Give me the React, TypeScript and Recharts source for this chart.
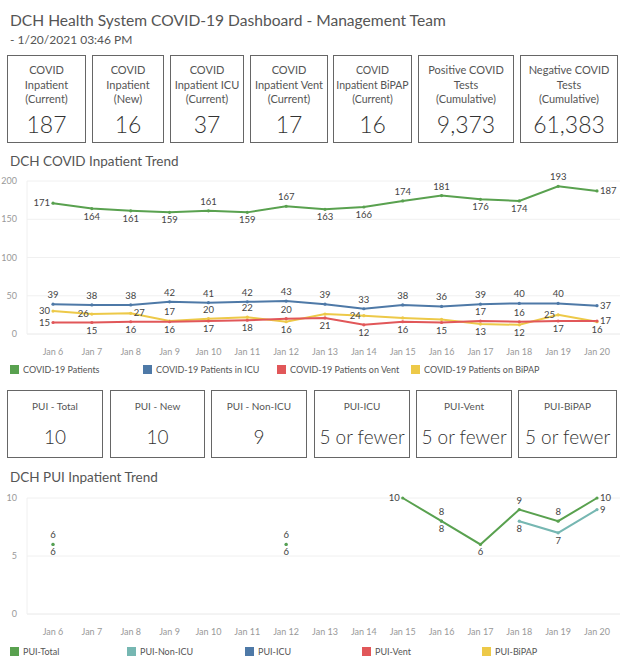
import React from 'react';
import { LineChart, Line, XAxis, YAxis, CartesianGrid, LabelList } from 'recharts';

const dates = ['Jan 6', 'Jan 7', 'Jan 8', 'Jan 9', 'Jan 10', 'Jan 11', 'Jan 12', 'Jan 13', 'Jan 14', 'Jan 15', 'Jan 16', 'Jan 17', 'Jan 18', 'Jan 19', 'Jan 20'];

const covidPatients = [171, 164, 161, 159, 161, 159, 167, 163, 166, 174, 181, 176, 174, 193, 187];
const covidIcu = [39, 38, 38, 42, 41, 42, 43, 39, 33, 38, 36, 39, 40, 40, 37];
const covidVent = [15, 15, 16, 16, 17, 18, 20, 21, 12, 16, 15, 17, 16, 17, 17];
const covidBipap = [30, 26, 27, 17, 20, 22, 16, 26, 24, 21, 19, 13, 12, 25, 16];

const puiTotal = [6, null, null, null, null, null, 6, null, null, 10, 8, 6, 9, 8, 10];
const puiNonIcu = [6, null, null, null, null, null, 6, null, null, null, 8, null, 8, 7, 9];

const covidTicks = [0, 50, 100, 150, 200];
const puiTicks = [0, 5, 10];

const topCards = [
  { lines: ['COVID', 'Inpatient', '(Current)'], value: '187' },
  { lines: ['COVID', 'Inpatient', '(New)'], value: '16' },
  { lines: ['COVID', 'Inpatient ICU', '(Current)'], value: '37' },
  { lines: ['COVID', 'Inpatient Vent', '(Current)'], value: '17' },
  { lines: ['COVID', 'Inpatient BiPAP', '(Current)'], value: '16' },
  { lines: ['Positive COVID', 'Tests', '(Cumulative)'], value: '9,373' },
  { lines: ['Negative COVID', 'Tests', '(Cumulative)'], value: '61,383' },
];

const puiCards = [
  { label: 'PUI - Total', value: '10' },
  { label: 'PUI - New', value: '10' },
  { label: 'PUI - Non-ICU', value: '9' },
  { label: 'PUI-ICU', value: '5 or fewer' },
  { label: 'PUI-Vent', value: '5 or fewer' },
  { label: 'PUI-BiPAP', value: '5 or fewer' },
];

// where Tableau put each mark label (t = above, b = below, l/r = side, n = hidden)
const patientsLabelAt = 'lbbbtbtbbttbbtr'.split('');
const icuLabelAt = 'ttttttttttttttr'.split('');
const ventLabelAt = 'lbbbbbtbbbbttbr'.split('');
const bipapLabelAt = 'llrtttbnlnnbblb'.split('');
const puiTotalLabelAt = 'tnnnnntnnltbttr'.split('');
const puiNonIcuLabelAt = 'bnnnnnbnnnbnbbr'.split('');

const GREEN = '#59a14f';
const BLUE = '#4e79a7';
const RED = '#e15759';
const YELLOW = '#edc948';
const TEAL = '#76b7b2';

const FONT = 'Lato, "Open Sans", sans-serif';

const chartData = dates.map((d, i) => ({
  date: d,
  patients: covidPatients[i],
  icu: covidIcu[i],
  vent: covidVent[i],
  bipap: covidBipap[i],
}));

const puiData = dates.map((d, i) => ({
  date: d,
  total: puiTotal[i],
  nonIcu: puiNonIcu[i],
}));

const makeLabel = (where: string[]) => (props: any) => {
  const { x, y, value, index } = props;
  const pos = where[index];
  if (value == null || pos === 'n' || pos == null) return null;
  let dx = 0;
  let dy = 0;
  let anchor: 'middle' | 'end' | 'start' = 'middle';
  if (pos === 't') dy = -6;
  if (pos === 'b') dy = 11;
  if (pos === 'l') { dx = -3; dy = 3; anchor = 'end'; }
  if (pos === 'r') { dx = 3; dy = 3; anchor = 'start'; }
  return (
    <text x={x + dx} y={y + dy} textAnchor={anchor} fontSize={9.5} fill="#444" fontFamily={FONT}>
      {value}
    </text>
  );
};

const dot = (color: string) => ({ r: 1.6, fill: color, stroke: color, strokeWidth: 0 });

const Legend = ({ items, top }: { items: { name: string; color: string; x: number }[]; top: number }) => (
  <>
    {items.map((it) => (
      <div key={it.name} style={{ position: 'absolute', left: it.x, top, display: 'flex', alignItems: 'center', fontSize: 9, color: '#555' }}>
        <div style={{ width: 9, height: 9, background: it.color, marginRight: 4 }} />
        <span>{it.name}</span>
      </div>
    ))}
  </>
);

const topCardX = [[7, 86], [92, 164], [170, 244], [250, 328], [333, 412], [418, 514], [520, 618]];
const puiCardX = [[7, 103], [110, 205], [211, 307], [314, 410], [416, 512], [518, 617]];

export default function App() {
  const axisTick = { fontSize: 9, fill: '#999', fontFamily: FONT };
  return (
    <div style={{ position: 'absolute', left: 0, top: 0, width: 624, height: 665, background: '#fff', fontFamily: FONT, color: '#444', overflow: 'hidden' }}>
      <div style={{ position: 'absolute', left: 10, top: 11, fontSize: 15.6, color: '#555', whiteSpace: 'nowrap' }}>
        DCH Health System COVID-19 Dashboard - Management Team
      </div>
      <div style={{ position: 'absolute', left: 10, top: 32, fontSize: 12, color: '#555', whiteSpace: 'nowrap' }}>
        - 1/20/2021 03:46 PM
      </div>

      {topCards.map((c, i) => (
        <div key={i} style={{ position: 'absolute', left: topCardX[i][0], top: 55, width: topCardX[i][1] - topCardX[i][0], height: 88, boxSizing: 'border-box', border: '1px solid #666', textAlign: 'center' }}>
          <div style={{ marginTop: 7, fontSize: i === 4 ? 10.5 : 11, lineHeight: '14.5px', color: '#555', whiteSpace: 'nowrap' }}>
            {c.lines.map((l) => <div key={l}>{l}</div>)}
          </div>
          <div style={{ position: 'absolute', left: 0, right: 0, top: 54, fontSize: 23, fontWeight: 300, lineHeight: '28px', color: '#333' }}>{c.value}</div>
        </div>
      ))}

      <div style={{ position: 'absolute', left: 10, top: 153, fontSize: 13.5, color: '#555', whiteSpace: 'nowrap' }}>DCH COVID Inpatient Trend</div>

      <div style={{ position: 'absolute', left: 0, top: 170 }}>
        <LineChart width={624} height={190} data={chartData} margin={{ top: 11, right: 4, left: 0, bottom: 0 }}>
          <CartesianGrid vertical={false} stroke="#f0f0f0" />
          <XAxis dataKey="date" padding={{ left: 26, right: 23 }} tick={axisTick} tickLine={false} axisLine={{ stroke: '#f0f0f0' }} tickMargin={9} height={26} interval={0} />
          <YAxis domain={[0, 200]} ticks={covidTicks} width={27} tick={axisTick} tickLine={false} axisLine={{ stroke: '#f0f0f0' }} tickMargin={4} />
          <Line dataKey="patients" stroke={GREEN} strokeWidth={2} dot={dot(GREEN)} activeDot={false} isAnimationActive={false}>
            <LabelList dataKey="patients" content={makeLabel(patientsLabelAt)} />
          </Line>
          <Line dataKey="icu" stroke={BLUE} strokeWidth={2} dot={dot(BLUE)} activeDot={false} isAnimationActive={false}>
            <LabelList dataKey="icu" content={makeLabel(icuLabelAt)} />
          </Line>
          <Line dataKey="bipap" stroke={YELLOW} strokeWidth={2} dot={dot(YELLOW)} activeDot={false} isAnimationActive={false}>
            <LabelList dataKey="bipap" content={makeLabel(bipapLabelAt)} />
          </Line>
          <Line dataKey="vent" stroke={RED} strokeWidth={2} dot={dot(RED)} activeDot={false} isAnimationActive={false}>
            <LabelList dataKey="vent" content={makeLabel(ventLabelAt)} />
          </Line>
        </LineChart>
      </div>

      <Legend
        top={364}
        items={[
          { name: 'COVID-19 Patients', color: GREEN, x: 10 },
          { name: 'COVID-19 Patients in ICU', color: BLUE, x: 143 },
          { name: 'COVID-19 Patients on Vent', color: RED, x: 277 },
          { name: 'COVID-19 Patients on BiPAP', color: YELLOW, x: 411 },
        ]}
      />

      {puiCards.map((c, i) => (
        <div key={i} style={{ position: 'absolute', left: puiCardX[i][0], top: 390, width: puiCardX[i][1] - puiCardX[i][0], height: 68, boxSizing: 'border-box', border: '1px solid #666', textAlign: 'center' }}>
          <div style={{ marginTop: 9, fontSize: 10, color: '#555', whiteSpace: 'nowrap' }}>{c.label}</div>
          <div style={{ position: 'absolute', left: 0, right: 0, top: 34, fontSize: 19, fontWeight: 300, lineHeight: '24px', color: '#333', whiteSpace: 'nowrap' }}>{c.value}</div>
        </div>
      ))}

      <div style={{ position: 'absolute', left: 10, top: 469, fontSize: 13.5, color: '#555', whiteSpace: 'nowrap' }}>DCH PUI Inpatient Trend</div>

      <div style={{ position: 'absolute', left: 0, top: 488 }}>
        <LineChart width={624} height={152} data={puiData} margin={{ top: 10, right: 4, left: 0, bottom: 0 }}>
          <CartesianGrid vertical={false} stroke="#f0f0f0" />
          <XAxis dataKey="date" padding={{ left: 26, right: 23 }} tick={axisTick} tickLine={false} axisLine={{ stroke: '#f0f0f0' }} tickMargin={9} height={26} interval={0} />
          <YAxis domain={[0, 10]} ticks={puiTicks} width={27} tick={axisTick} tickLine={false} axisLine={{ stroke: '#f0f0f0' }} tickMargin={4} />
          <Line dataKey="nonIcu" stroke={TEAL} strokeWidth={2} dot={dot(TEAL)} activeDot={false} isAnimationActive={false}>
            <LabelList dataKey="nonIcu" content={makeLabel(puiNonIcuLabelAt)} />
          </Line>
          <Line dataKey="total" stroke={GREEN} strokeWidth={2} dot={dot(GREEN)} activeDot={false} isAnimationActive={false}>
            <LabelList dataKey="total" content={makeLabel(puiTotalLabelAt)} />
          </Line>
        </LineChart>
      </div>

      <Legend
        top={646}
        items={[
          { name: 'PUI-Total', color: GREEN, x: 10 },
          { name: 'PUI-Non-ICU', color: TEAL, x: 127 },
          { name: 'PUI-ICU', color: BLUE, x: 245 },
          { name: 'PUI-Vent', color: RED, x: 362 },
          { name: 'PUI-BiPAP', color: YELLOW, x: 482 },
        ]}
      />
    </div>
  );
}
